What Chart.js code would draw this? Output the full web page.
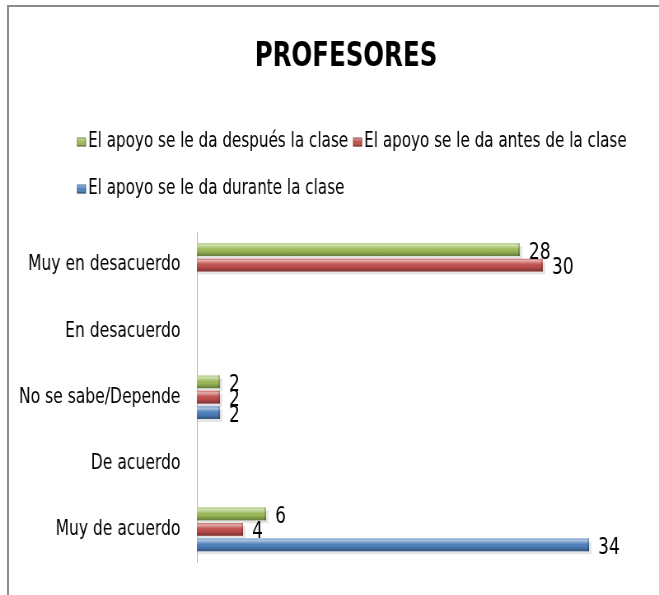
<!DOCTYPE html>
<html>
<head>
<meta charset="utf-8">
<script src="https://cdn.jsdelivr.net/npm/chart.js@4.4.1/dist/chart.umd.min.js"></script>
<style>
    html, body { margin: 0; padding: 0; background: #fff; }
    #wrap { position: relative; width: 659px; height: 595px; overflow: hidden; }
    #frame {
        position: absolute; left: 7px; top: 5px; right: -10px; bottom: -10px;
        border-top: 2px solid #8c8c8c; border-left: 2px solid #8c8c8c;
        pointer-events: none;
    }
</style>
</head>
<body>
<div id="wrap">
    <!-- the original uses a narrow font: draw 800 wide and squeeze to 659 -->
    <canvas id="chart" width="800" height="595" style="width:659px;height:595px"></canvas>
    <div id="frame"></div>
</div>
<script>
// Data
const chartTitle = 'PROFESORES';
const categories = ['Muy en desacuerdo', 'En desacuerdo', 'No se sabe/Depende', 'De acuerdo', 'Muy de acuerdo'];
const seriesNames = ['El apoyo se le da después la clase', 'El apoyo se le da antes de la clase', 'El apoyo se le da durante la clase'];
const despues = [28, null, 2, null, 6];
const antes = [30, null, 2, null, 4];
const durante = [null, null, 2, null, 34];
const seriesColors = ['#9bbb59', '#c0504d', '#4f81bd'];

const FONT = "'DejaVu Sans Condensed', 'DejaVu Sans', sans-serif";
const SQUEEZE = 659 / 800;

// 3D-ish tube look drawn over each bar
const barShade = {
    id: 'barShade',
    beforeDatasetsDraw(chart) {
        const ctx = chart.ctx;
        ctx.save();
        chart.data.datasets.forEach((ds, i) => {
            chart.getDatasetMeta(i).data.forEach((el, j) => {
                if (ds.data[j] == null) return;
                const { x, y, base, height } = el.getProps(['x', 'y', 'base', 'height'], true);
                ctx.fillStyle = 'rgba(0,0,0,0.10)';
                ctx.fillRect(base + 1, y - height / 2 + 3, x - base + 2, height);
            });
        });
        ctx.restore();
    },
    afterDatasetsDraw(chart) {
        const ctx = chart.ctx;
        ctx.save();
        chart.data.datasets.forEach((ds, i) => {
            chart.getDatasetMeta(i).data.forEach((el, j) => {
                if (ds.data[j] == null) return;
                const { x, y, base, height } = el.getProps(['x', 'y', 'base', 'height'], true);
                const top = y - height / 2;
                const g = ctx.createLinearGradient(0, top, 0, top + height);
                g.addColorStop(0, 'rgba(255,255,255,0.15)');
                g.addColorStop(0.15, 'rgba(255,255,255,0.55)');
                g.addColorStop(0.4, 'rgba(255,255,255,0.1)');
                g.addColorStop(0.6, 'rgba(0,0,0,0)');
                g.addColorStop(1, 'rgba(0,0,0,0.35)');
                ctx.fillStyle = g;
                ctx.fillRect(base, top, x - base, height);
                // end cap
                ctx.fillStyle = 'rgba(0,0,0,0.18)';
                ctx.fillRect(x - 2, top, 2, height);
            });
        });
        // value labels
        ctx.fillStyle = '#000';
        ctx.font = '23px ' + FONT;
        ctx.textAlign = 'left';
        ctx.textBaseline = 'middle';
        chart.data.datasets.forEach((ds, i) => {
            chart.getDatasetMeta(i).data.forEach((el, j) => {
                if (ds.data[j] == null) return;
                ctx.fillText(ds.data[j], el.x + 11, el.y + 3);
            });
        });
        ctx.restore();
    }
};

// Title and legend drawn by hand: the title sits right of centre and
// the legend rows are spaced wider than Chart.js allows
const header = {
    id: 'header',
    afterDraw(chart) {
        const ctx = chart.ctx;
        ctx.save();
        ctx.fillStyle = '#000';
        ctx.font = 'bold 33px ' + FONT;
        ctx.textAlign = 'center';
        ctx.textBaseline = 'middle';
        ctx.fillText(chartTitle, 346 / SQUEEZE, 57);

        ctx.font = '20.5px ' + FONT;
        ctx.textAlign = 'left';
        const startX = 77 / SQUEEZE, box = 9 / SQUEEZE;
        let x = startX, y = 142;
        const maxRight = 785;
        chart.data.datasets.forEach((ds) => {
            const w = box + 2.5 + ctx.measureText(ds.label).width;
            if (x > startX && x + w > maxRight) {
                x = startX;
                y += 47;
            }
            ctx.fillStyle = ds.backgroundColor;
            ctx.fillRect(x, y - 4.5, box, 9);
            const g = ctx.createLinearGradient(0, y - 4.5, 0, y + 4.5);
            g.addColorStop(0, 'rgba(255,255,255,0.5)');
            g.addColorStop(0.5, 'rgba(255,255,255,0)');
            g.addColorStop(1, 'rgba(0,0,0,0.25)');
            ctx.fillStyle = g;
            ctx.fillRect(x, y - 4.5, box, 9);
            ctx.strokeStyle = 'rgba(0,0,0,0.3)';
            ctx.lineWidth = 1;
            ctx.strokeRect(x + 0.5, y - 4, box - 1, 8);
            ctx.fillStyle = '#000';
            ctx.fillText(ds.label, x + box + 2.5, y);
            x += w + 6;
        });
        ctx.restore();
    }
};

Chart.defaults.font.family = FONT;
Chart.defaults.color = '#000';

new Chart(document.getElementById('chart'), {
    type: 'bar',
    data: {
        labels: categories,
        datasets: [
            { label: seriesNames[0], data: despues, backgroundColor: seriesColors[0] },
            { label: seriesNames[1], data: antes, backgroundColor: seriesColors[1] },
            { label: seriesNames[2], data: durante, backgroundColor: seriesColors[2] }
        ]
    },
    options: {
        indexAxis: 'y',
        responsive: false,
        animation: false,
        categoryPercentage: 0.7,
        barPercentage: 0.83,
        layout: { padding: { left: 0, right: 57, top: 232, bottom: 28 } },
        plugins: {
            legend: { display: false },
            tooltip: { enabled: false },
            title: { display: false }
        },
        scales: {
            x: {
                display: false,
                min: 0,
                max: 36
            },
            y: {
                grid: { display: false, drawTicks: false },
                border: { display: true, color: '#b0b0b0', width: 1 },
                ticks: { padding: 20, font: { size: 21 }, color: '#000' },
                afterFit(scale) { scale.width = 239; }
            }
        }
    },
    plugins: [barShade, header]
});
</script>
</body>
</html>
